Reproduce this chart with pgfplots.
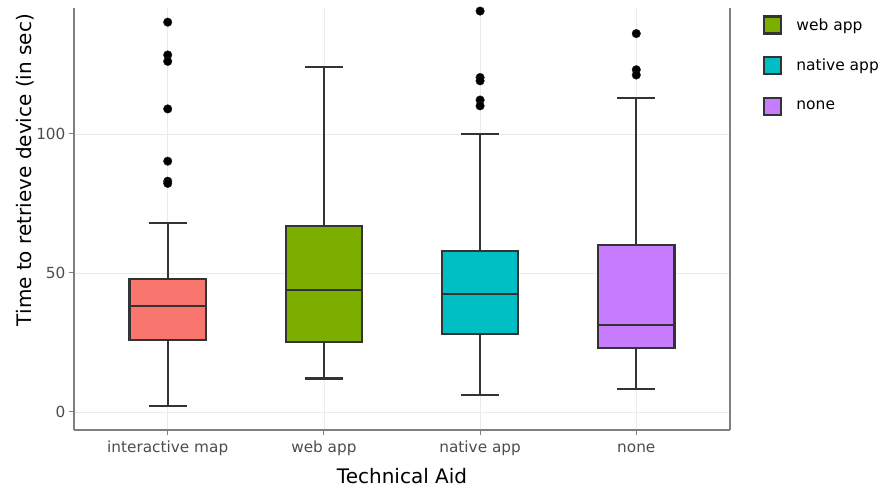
\documentclass[border=0pt]{standalone}
\usepackage{fontspec}
\setmainfont{DejaVu Sans}
\usepackage{pgfplots}
\pgfplotsset{compat=1.18}
\definecolor{cmap}{HTML}{F8766D}
\definecolor{cweb}{HTML}{7CAE00}
\definecolor{cnat}{HTML}{00BFC4}
\definecolor{cnone}{HTML}{C77CFF}
\definecolor{boxc}{HTML}{333333}
\definecolor{axc}{HTML}{7F7F7F}
\definecolor{tickc}{HTML}{4D4D4D}
\definecolor{gridc}{HTML}{EBEBEB}
\pgfplotsset{
  sqlegend/.style={legend image code/.code={\draw[##1] (0pt,-8.5pt) rectangle (17pt,8.5pt);}},
  bx/.style={draw=boxc, line width=2.2pt, forget plot},
}
\begin{document}
\begin{tikzpicture}
\begin{axis}[
  scale only axis, width=656pt, height=422pt,
  xmin=-0.6, xmax=3.6, ymin=-6.5, ymax=145.3,
  xtick={0,1,2,3},
  xticklabels={interactive map, web app, native app, none},
  ytick={0,50,100},
  axis x line*=bottom, axis y line*=left,
  axis line style={draw=axc, line width=1.3pt, -},
  tick align=outside, major tick length=5pt,
  tick style={draw=axc, line width=1pt},
  xmajorgrids, ymajorgrids,
  grid style={draw=gridc, line width=0.6pt},
  ticklabel style={text=tickc, font=\fontsize{15.3}{18}\selectfont},
  xticklabel style={yshift=-6pt, text height=1.5ex, text depth=0.4ex},
  /pgf/number format/assume math mode=true,
  xlabel={Technical Aid}, ylabel={Time to retrieve device (in sec)},
  label style={font=\fontsize{20}{24}\selectfont},
  xlabel style={at={(axis description cs:0.5,-0.109)}, anchor=center},
  ylabel style={at={(axis description cs:-0.0747,0.616)}, anchor=center},
  legend style={at={(axis description cs:1.0503,0.983)}, anchor=north west, draw=none, fill=none,
    font=\fontsize{15.5}{18}\selectfont, row sep=21.5pt, inner sep=0pt},
  /tikz/every odd column/.append style={column sep=12pt},
  legend cell align=left,
  clip=false,
]
% interactive map (x=0)
\addplot[bx, fill=cmap] coordinates {(-0.245,26) (0.245,26) (0.245,47.8) (-0.245,47.8)} -- cycle;
\addplot[bx] coordinates {(-0.245,38.1) (0.245,38.1)};
\addplot[bx] coordinates {(0,47.8) (0,68)};
\addplot[bx] coordinates {(0,26) (0,2)};
\addplot[bx] coordinates {(-0.1225,68) (0.1225,68)};
\addplot[bx] coordinates {(-0.1225,2) (0.1225,2)};
% web app (x=1)
\addplot[bx, fill=cweb] coordinates {(0.755,25.2) (1.245,25.2) (1.245,66.9) (0.755,66.9)} -- cycle;
\addplot[bx] coordinates {(0.755,43.9) (1.245,43.9)};
\addplot[bx] coordinates {(1,66.9) (1,124.1)};
\addplot[bx] coordinates {(1,25.2) (1,12)};
\addplot[bx] coordinates {(0.8775,124.1) (1.1225,124.1)};
\addplot[bx] coordinates {(0.8775,12) (1.1225,12)};
% native app (x=2)
\addplot[bx, fill=cnat] coordinates {(1.755,28.1) (2.245,28.1) (2.245,57.9) (1.755,57.9)} -- cycle;
\addplot[bx] coordinates {(1.755,42.4) (2.245,42.4)};
\addplot[bx] coordinates {(2,57.9) (2,100)};
\addplot[bx] coordinates {(2,28.1) (2,6.1)};
\addplot[bx] coordinates {(1.8775,100) (2.1225,100)};
\addplot[bx] coordinates {(1.8775,6.1) (2.1225,6.1)};
% none (x=3)
\addplot[bx, fill=cnone] coordinates {(2.755,23) (3.245,23) (3.245,60) (2.755,60)} -- cycle;
\addplot[bx] coordinates {(2.755,31.3) (3.245,31.3)};
\addplot[bx] coordinates {(3,60) (3,113)};
\addplot[bx] coordinates {(3,23) (3,8.3)};
\addplot[bx] coordinates {(2.8775,113) (3.1225,113)};
\addplot[bx] coordinates {(2.8775,8.3) (3.1225,8.3)};
% outliers
\addplot[only marks, mark=*, mark size=4.3pt, draw=black!85, fill=black, forget plot] coordinates {
  (0,140.2) (0,128.4) (0,126.1) (0,109) (0,90.2) (0,83) (0,82.2)
  (2,144.2) (2,120.3) (2,119.1) (2,112.2) (2,110.1)
  (3,136.1) (3,123.1) (3,121.2)
};
\draw[axc, line width=1.3pt] (axis cs:3.6,-6.5) -- (axis cs:3.6,145.3);
\addlegendimage{sqlegend, draw=boxc, line width=2.2pt, fill=cweb}
\addlegendentry{web app}
\addlegendimage{sqlegend, draw=boxc, line width=2.2pt, fill=cnat}
\addlegendentry{native app}
\addlegendimage{sqlegend, draw=boxc, line width=2.2pt, fill=cnone}
\addlegendentry{none}
\end{axis}
\pgfresetboundingbox
\path[use as bounding box] (-74pt,-63pt) rectangle (808pt,430pt);
\end{tikzpicture}
\end{document}
